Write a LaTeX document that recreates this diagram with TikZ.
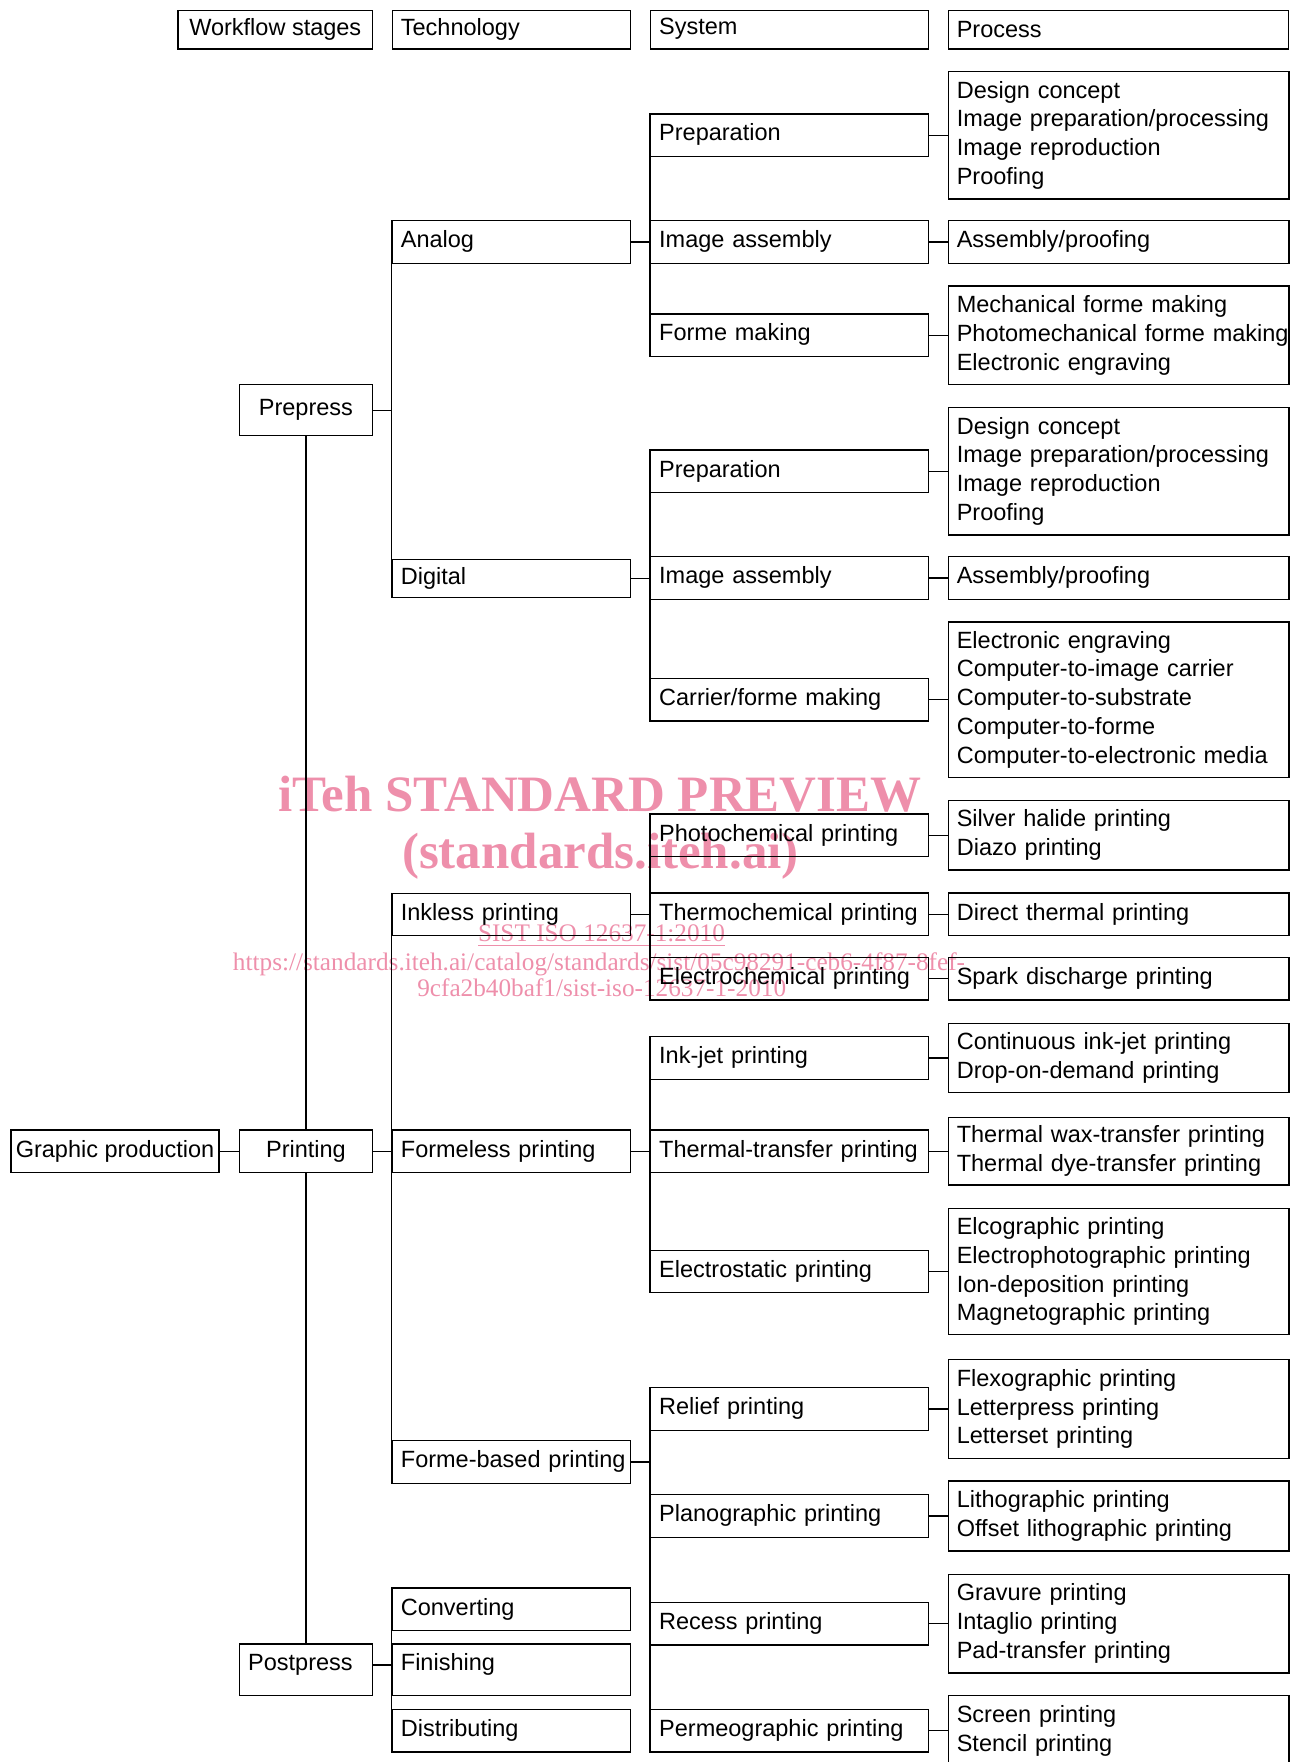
\documentclass[tikz,border=0pt]{standalone}
\usepackage{fontspec}
\setmainfont{Liberation Sans}
\newfontfamily\wmfont{Liberation Serif}
\usetikzlibrary{positioning}
\definecolor{wmpink}{RGB}{238,143,171}

\begin{document}
\begin{tikzpicture}[
  x=0.4pt, y=-0.4pt,
  font=\fontsize{9.4}{11.5}\selectfont,
  box/.style={rectangle, draw=black, line width=0.55pt, inner xsep=3.4pt, inner ysep=0pt, align=left},
  oneline/.style={text height=10.8pt, text depth=6.2pt},
  headbox/.style={box, anchor=north west, text height=10pt, text depth=5.3pt},
  stagebox/.style={box, anchor=north west, minimum width=53pt, align=center},
  techbox/.style={box, oneline, anchor=north west, text width=88.5pt},
  sysbox/.style={box, oneline, anchor=north west, text width=104.4pt},
  procbox/.style={box, text width=129.4pt},
  link/.style={line width=0.55pt},
  wmark/.style={text=wmpink, inner sep=0pt, anchor=base}
]
\useasboundingbox (0,0) rectangle (1290,1762);

% watermark (behind the chart)
\node[wmark, font=\wmfont\bfseries\fontsize{20.4}{24}\selectfont] (wmtitle) at (600,811.7) {iTeh STANDARD PREVIEW};
\node[wmark, font=\wmfont\bfseries\fontsize{20.4}{24}\selectfont] (wmsite) at (600.4,868) {(standards.iteh.ai)};
\node[wmark, font=\wmfont\fontsize{10.1}{12}\selectfont] (wmcode) at (601.5,941.7) {\underline{SIST ISO 12637-1:2010}};
\node[wmark, font=\wmfont\fontsize{10.1}{12}\selectfont] (wmurl) at (599,970) {https://standards.iteh.ai/catalog/standards/sist/05c98291-ceb6-4f87-8fef-};
\node[wmark, font=\wmfont\fontsize{10.1}{12}\selectfont] (wmurltail) at (601.7,996.7) {9cfa2b40baf1/sist-iso-12637-1-2010};

% column heads
\node[headbox, minimum width=77.76pt, align=center] (hstage) at (177.4,10) {Workflow stages};
\node[headbox, text width=88.5pt] (htech) at (391.7,10) {Technology};
\node[headbox, text width=104.4pt, text height=9.4pt, text depth=5.9pt] (hsys) at (650,10) {System};
\node[headbox, text width=129.4pt, text height=10.7pt, text depth=4.6pt] (hproc) at (947.6,10) {Process};

% workflow stages
\node[box, oneline, anchor=north west, inner xsep=1.8pt, minimum width=83.2pt, align=center] (gp) at (10.4,1129.3) {Graphic production};
\node[stagebox, text height=12.4pt, text depth=8pt] (prepress) at (239,384) {Prepress};
\node[stagebox, oneline] (printing) at (239,1129.3) {Printing};
\node[stagebox, text width=46.2pt, align=left, text height=10.7pt, text depth=10pt] (postpress) at (239,1643.3) {Postpress};

% technology
\node[techbox] (analog) at (391.7,220) {Analog};
\node[techbox, text height=9.8pt, text depth=5.3pt] (digital) at (391.7,559) {Digital};
\node[techbox] (inkless) at (391.7,892.5) {Inkless printing};
\node[techbox] (formeless) at (391.7,1129.3) {Formeless printing};
\node[techbox] (formebased) at (391.7,1440) {\mbox{Forme-based printing}};
\node[techbox] (converting) at (391.7,1587.3) {Converting};
\node[techbox, text height=10.7pt, text depth=10pt] (finishing) at (391.7,1643.3) {Finishing};
\node[techbox] (distributing) at (391.7,1708.7) {Distributing};

% systems
\node[sysbox] (prepA) at (650,113.3) {Preparation};
\node[sysbox] (imgA) at (650,220) {Image assembly};
\node[sysbox] (formeA) at (650,313.3) {Forme making};
\node[sysbox] (prepD) at (650,449.3) {Preparation};
\node[sysbox] (imgD) at (650,556) {Image assembly};
\node[sysbox] (carrierD) at (650,677.7) {Carrier/forme making};
\node[sysbox] (photo) at (650,813.3) {Photochemical printing};
\node[sysbox] (thermo) at (650,892.3) {Thermochemical printing};
\node[sysbox] (electro) at (650,956.7) {Electrochemical printing};
\node[sysbox] (inkjet) at (650,1036) {Ink-jet printing};
\node[sysbox] (thermal) at (650,1129.3) {\mbox{Thermal-transfer printing}};
\node[sysbox] (electrost) at (650,1249.6) {Electrostatic printing};
\node[sysbox] (relief) at (650,1387) {Relief printing};
\node[sysbox] (plano) at (650,1494) {Planographic printing};
\node[sysbox] (recess) at (650,1601.7) {Recess printing};
\node[sysbox] (permeo) at (650,1708.7) {Permeographic printing};

% processes
\node[procbox, minimum height=51pt, right=7.3pt of prepA] (pPrepA) {Design concept\\Image preparation/processing\\Image reproduction\\Proofing};
\node[procbox, oneline, right=7.3pt of imgA] (pImgA) {Assembly/proofing};
\node[procbox, minimum height=39.5pt, right=7.3pt of formeA] (pFormeA) {Mechanical forme making\\\mbox{Photomechanical forme making}\\Electronic engraving};
\node[procbox, minimum height=51pt, right=7.3pt of prepD] (pPrepD) {Design concept\\Image preparation/processing\\Image reproduction\\Proofing};
\node[procbox, oneline, right=7.3pt of imgD] (pImgD) {Assembly/proofing};
\node[procbox, minimum height=62.2pt, right=7.3pt of carrierD] (pCarrierD) {Electronic engraving\\Computer-to-image carrier\\Computer-to-substrate\\Computer-to-forme\\Computer-to-electronic media};
\node[procbox, minimum height=27.8pt, right=7.3pt of photo] (pPhoto) {Silver halide printing\\Diazo printing};
\node[procbox, oneline, right=7.3pt of thermo] (pThermo) {Direct thermal printing};
\node[procbox, oneline, right=7.3pt of electro] (pElectro) {Spark discharge printing};
\node[procbox, minimum height=27.8pt, right=7.3pt of inkjet] (pInkjet) {Continuous ink-jet printing\\Drop-on-demand printing};
\node[procbox, minimum height=27pt, right=7.3pt of thermal] (pThermal) {Thermal wax-transfer printing\\Thermal dye-transfer printing};
\node[procbox, minimum height=50.4pt, right=7.3pt of electrost] (pElectrost) {Elcographic printing\\Electrophotographic printing\\Ion-deposition printing\\Magnetographic printing};
\node[procbox, minimum height=39.5pt, right=7.3pt of relief] (pRelief) {Flexographic printing\\Letterpress printing\\Letterset printing};
\node[procbox, minimum height=28pt, right=7.3pt of plano] (pPlano) {Lithographic printing\\Offset lithographic printing};
\node[procbox, minimum height=39.5pt, right=7.3pt of recess] (pRecess) {Gravure printing\\Intaglio printing\\Pad-transfer printing};
\node[procbox, minimum height=28pt, right=7.3pt of permeo] (pPermeo) {Screen printing\\Stencil printing};

% tree lines
\draw[link] (gp) -- (printing);
\draw[link] (prepress) -- (printing) -- (postpress);
\draw[link] (prepress.east) -- (prepress.east -| analog.west);
\draw[link] (analog.north west) -- (digital.south west);
\draw[link] (printing) -- (formeless);
\draw[link] (inkless.north west) -- (formebased.south west);
\draw[link] ([yshift=2pt]postpress.east) -- ([yshift=2pt]postpress.east -| finishing.west);
\draw[link] (converting.north west) -- (distributing.south west);

\draw[link] (analog) -- (imgA);
\draw[link] (prepA.north west) -- (formeA.south west);
\draw[link] (digital.east) -- (digital.east -| imgD.west);
\draw[link] (prepD.north west) -- (carrierD.south west);
\draw[link] (inkless.east) -- (inkless.east -| thermo.west);
\draw[link] (photo.north west) -- (electro.south west);
\draw[link] (formeless) -- (thermal);
\draw[link] (inkjet.north west) -- (electrost.south west);
\draw[link] (formebased.east) -- (formebased.east -| relief.west);
\draw[link] (relief.north west) -- (permeo.south west);

\draw[link] (prepA) -- (pPrepA);
\draw[link] (imgA) -- (pImgA);
\draw[link] (formeA) -- (pFormeA);
\draw[link] (prepD) -- (pPrepD);
\draw[link] (imgD) -- (pImgD);
\draw[link] (carrierD) -- (pCarrierD);
\draw[link] (photo) -- (pPhoto);
\draw[link] (thermo) -- (pThermo);
\draw[link] (electro) -- (pElectro);
\draw[link] (inkjet) -- (pInkjet);
\draw[link] (thermal) -- (pThermal);
\draw[link] (electrost) -- (pElectrost);
\draw[link] (relief) -- (pRelief);
\draw[link] (plano) -- (pPlano);
\draw[link] (recess) -- (pRecess);
\draw[link] (permeo) -- (pPermeo);

\end{tikzpicture}
\end{document}
